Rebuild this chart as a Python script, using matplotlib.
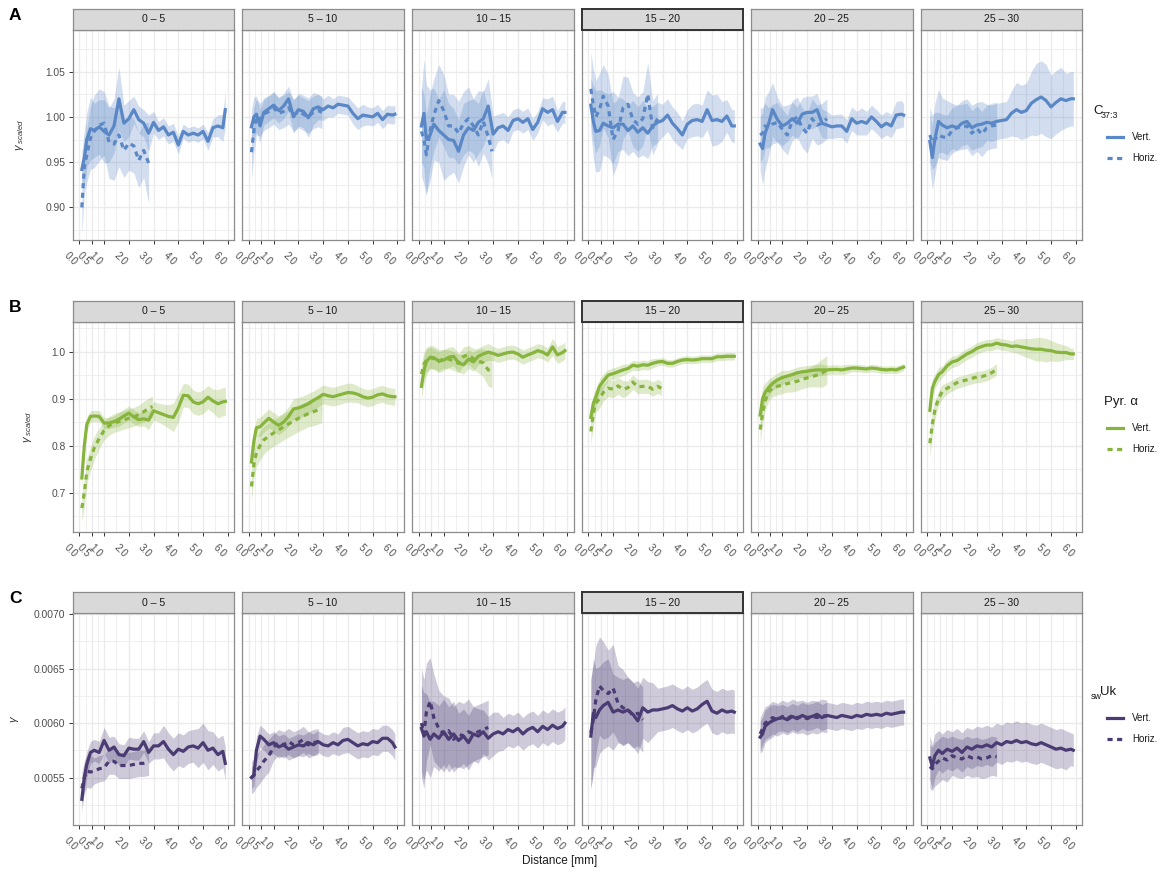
#!/usr/bin/env python3
"""Faceted variogram curves (vertical vs horizontal) for three proxies."""

import numpy as np
import matplotlib
matplotlib.use("Agg")
import matplotlib.pyplot as plt
from matplotlib.lines import Line2D

nan = np.nan

FACETS = ["0 – 5", "5 – 10", "10 – 15", "15 – 20", "20 – 25", "25 – 30"]
HIGHLIGHT = "15 – 20"

# distance grid (mm) shared by all vertical / horizontal curves
VERT_X = [0.1, 0.2, 0.3, 0.45, 0.6, 0.8, 1.0, 1.2, 1.4, 1.6, 1.8, 2.0, 2.2, 2.4, 2.6, 2.8,
          3.0, 3.2, 3.4, 3.6, 3.8, 4.0, 4.2, 4.4, 4.6, 4.8, 5.0, 5.2, 5.4, 5.6, 5.8, 5.9]
HORIZ_X = [0.1, 0.2, 0.3, 0.45, 0.6, 0.8, 1.0, 1.2, 1.4, 1.6, 1.8, 2.0, 2.2, 2.4, 2.6, 2.8, 2.95]

X_TICKS = [0.0, 0.5, 1.0, 2.0, 3.0, 4.0, 5.0, 6.0]
X_TICK_LABELS = ["0.0", "0.5", "1.0", "2.0", "3.0", "4.0", "5.0", "6.0"]
X_MINOR = [0.25, 0.75, 1.5, 2.5, 3.5, 4.5, 5.5]

# ---- A: C37:3 ------------------------------------------------------------
A_VERT = [
    [0.942, 0.955, 0.975, 0.987, 0.985, 0.989, 0.984, 0.980, 0.990, 1.020, 0.993, 0.998, 1.008, 0.997, 0.993, 0.982,
     0.994, 0.985, 0.989, 0.980, 0.983, 0.969, 0.984, 0.980, 0.982, 0.980, 0.984, 0.973, 0.988, 0.990, 0.988, 1.008],
    [0.989, 1.000, 1.003, 0.990, 1.005, 1.009, 1.013, 1.007, 1.012, 1.020, 1.000, 1.008, 1.006, 0.999, 1.009, 1.011,
     1.008, 1.012, 1.010, 1.014, 1.013, 1.012, 1.004, 0.998, 1.002, 1.001, 1.000, 1.004, 0.997, 1.003, 1.002, 1.003],
    [0.990, 1.004, 0.975, 0.980, 0.992, 0.985, 0.980, 0.975, 0.974, 0.962, 0.980, 0.988, 0.985, 0.994, 0.998, 1.012,
     0.981, 0.988, 0.990, 0.985, 0.996, 0.998, 0.994, 0.998, 0.986, 0.994, 1.009, 1.005, 1.008, 0.995, 1.005, 1.005],
    [1.013, 0.995, 0.984, 0.985, 0.993, 0.990, 0.988, 0.992, 0.992, 0.985, 0.990, 0.983, 0.988, 0.982, 0.990, 0.994,
     0.996, 1.002, 0.993, 0.987, 0.980, 0.992, 0.996, 0.997, 0.995, 1.008, 0.996, 0.997, 0.995, 1.001, 0.990, 0.990],
    [0.970, 0.965, 0.982, 0.993, 1.008, 0.997, 0.990, 0.993, 0.998, 0.993, 1.003, 1.005, 1.005, 1.008, 0.993, 0.991,
     0.989, 0.990, 0.990, 0.984, 0.998, 0.993, 0.995, 0.993, 1.000, 0.995, 0.989, 0.993, 0.990, 1.002, 1.003, 1.002],
    [0.973, 0.955, 0.975, 0.995, 0.991, 0.988, 0.990, 0.988, 0.993, 0.995, 0.988, 0.991, 0.992, 0.994, 0.993, 0.995,
     0.996, 0.997, 1.004, 1.008, 1.005, 1.007, 1.015, 1.019, 1.022, 1.018, 1.011, 1.016, 1.020, 1.018, 1.020, 1.020],
]
A_VERT_SD = [
    [0.02, 0.03, 0.03, 0.035, 0.03, 0.03, 0.035, 0.03, 0.03, 0.035, 0.02, 0.02, 0.015, 0.015, 0.015, 0.02,
     0.012, 0.01, 0.01, 0.01, 0.01, 0.01, 0.008, 0.008, 0.008, 0.008, 0.008, 0.01, 0.01, 0.012, 0.015, 0.02],
    [0.02, 0.022, 0.02, 0.018, 0.014, 0.014, 0.014, 0.014, 0.014, 0.014, 0.018, 0.018, 0.018, 0.022, 0.018, 0.014,
     0.012, 0.012, 0.01, 0.01, 0.01, 0.01, 0.012, 0.012, 0.012, 0.01, 0.01, 0.01, 0.01, 0.01, 0.01, 0.01],
    [0.04, 0.06, 0.06, 0.05, 0.04, 0.035, 0.05, 0.04, 0.035, 0.035, 0.035, 0.03, 0.035, 0.035, 0.03, 0.03,
     0.02, 0.015, 0.015, 0.015, 0.012, 0.012, 0.012, 0.012, 0.012, 0.012, 0.012, 0.015, 0.015, 0.012, 0.012, 0.012],
    [0.03, 0.04, 0.045, 0.045, 0.035, 0.035, 0.04, 0.03, 0.028, 0.028, 0.028, 0.028, 0.03, 0.028, 0.022, 0.022,
     0.018, 0.018, 0.018, 0.018, 0.016, 0.016, 0.018, 0.018, 0.018, 0.022, 0.028, 0.028, 0.022, 0.018, 0.018, 0.018],
    [0.03, 0.04, 0.04, 0.035, 0.03, 0.025, 0.022, 0.02, 0.018, 0.018, 0.018, 0.018, 0.018, 0.018, 0.016, 0.015,
     0.013, 0.013, 0.013, 0.013, 0.013, 0.013, 0.015, 0.013, 0.013, 0.013, 0.013, 0.013, 0.013, 0.015, 0.015, 0.013],
    [0.03, 0.035, 0.04, 0.035, 0.03, 0.03, 0.025, 0.025, 0.025, 0.025, 0.025, 0.025, 0.025, 0.02, 0.02, 0.02,
     0.02, 0.02, 0.025, 0.03, 0.03, 0.03, 0.035, 0.04, 0.04, 0.04, 0.035, 0.035, 0.035, 0.03, 0.03, 0.03],
]
A_HORIZ = [
    [0.900, 0.945, 0.958, 0.977, 0.984, 0.991, 0.993, 0.972, 0.970, 0.980, 0.963, 0.971, 0.968, 0.952, 0.963, 0.949, nan],
    [0.961, 0.985, 1.000, 0.997, 1.003, 1.006, 1.010, 1.004, 1.006, 1.010, 1.002, 1.006, 1.003, 1.000, 1.005, 1.007, 1.005],
    [0.984, 0.975, 0.958, 0.985, 1.002, 1.018, 1.007, 0.990, 0.990, 0.982, 0.993, 0.998, 0.990, 0.980, 0.995, 0.978, 0.962],
    [1.031, 1.013, 1.000, 1.008, 1.023, 1.012, 0.975, 0.985, 1.010, 1.014, 0.997, 0.992, 0.998, 1.025, 0.988, 0.998, nan],
    [0.980, 0.982, 0.990, 0.988, 0.992, 0.994, 0.986, 0.980, 0.996, 1.000, 0.988, 0.982, 0.998, 0.991, 0.993, 0.998, nan],
    [0.980, 0.972, 0.975, 0.980, 0.978, 0.977, 0.985, 0.988, 0.989, 0.990, 0.982, 0.987, 0.981, 0.988, 0.990, 0.991, nan],
]
A_HORIZ_SD = [
    [0.03, 0.03, 0.03, 0.035, 0.04, 0.04, 0.035, 0.04, 0.04, 0.035, 0.03, 0.03, 0.03, 0.03, 0.03, 0.045, 0.045],
    [0.03, 0.025, 0.02, 0.018, 0.018, 0.018, 0.018, 0.018, 0.018, 0.018, 0.018, 0.018, 0.018, 0.018, 0.018, 0.018, 0.018],
    [0.05, 0.05, 0.045, 0.04, 0.04, 0.04, 0.04, 0.035, 0.035, 0.035, 0.035, 0.035, 0.03, 0.035, 0.035, 0.03, 0.03],
    [0.04, 0.04, 0.04, 0.04, 0.035, 0.035, 0.04, 0.035, 0.035, 0.03, 0.03, 0.03, 0.03, 0.035, 0.03, 0.028, 0.028],
    [0.03, 0.028, 0.025, 0.022, 0.022, 0.022, 0.022, 0.022, 0.022, 0.022, 0.022, 0.022, 0.022, 0.022, 0.022, 0.022, 0.022],
    [0.03, 0.03, 0.03, 0.025, 0.025, 0.025, 0.025, 0.025, 0.025, 0.025, 0.025, 0.025, 0.025, 0.025, 0.025, 0.025, 0.025],
]

# ---- B: Pyr. alpha -------------------------------------------------------
B_VERT = [
    [0.731, 0.800, 0.845, 0.862, 0.863, 0.862, 0.848, 0.848, 0.851, 0.856, 0.863, 0.869, 0.861, 0.855, 0.857, 0.854,
     0.874, 0.870, 0.866, 0.862, 0.860, 0.880, 0.907, 0.906, 0.893, 0.889, 0.893, 0.903, 0.895, 0.889, 0.893, 0.894],
    [0.765, 0.810, 0.838, 0.840, 0.848, 0.858, 0.850, 0.843, 0.850, 0.862, 0.878, 0.880, 0.884, 0.889, 0.896, 0.902,
     0.909, 0.906, 0.904, 0.907, 0.910, 0.913, 0.912, 0.909, 0.904, 0.901, 0.903, 0.908, 0.910, 0.906, 0.904, 0.904],
    [0.926, 0.960, 0.979, 0.988, 0.987, 0.980, 0.982, 0.988, 0.990, 0.976, 0.972, 0.984, 0.978, 0.990, 0.995, 0.999,
     0.996, 0.992, 0.995, 0.998, 0.999, 0.995, 0.988, 0.993, 0.997, 1.002, 0.999, 0.993, 1.010, 0.993, 0.998, 1.002],
    [0.860, 0.890, 0.903, 0.926, 0.937, 0.950, 0.953, 0.957, 0.961, 0.964, 0.971, 0.969, 0.972, 0.971, 0.975, 0.978,
     0.979, 0.975, 0.975, 0.979, 0.982, 0.983, 0.982, 0.983, 0.985, 0.985, 0.985, 0.989, 0.989, 0.990, 0.990, 0.990],
    [0.865, 0.900, 0.913, 0.924, 0.932, 0.940, 0.945, 0.948, 0.951, 0.955, 0.957, 0.958, 0.960, 0.961, 0.961, 0.961,
     0.962, 0.962, 0.961, 0.963, 0.965, 0.965, 0.964, 0.963, 0.965, 0.964, 0.962, 0.961, 0.962, 0.961, 0.965, 0.967],
    [0.875, 0.922, 0.936, 0.951, 0.957, 0.970, 0.978, 0.981, 0.988, 0.995, 1.000, 1.007, 1.011, 1.014, 1.014, 1.018,
     1.015, 1.014, 1.011, 1.012, 1.010, 1.008, 1.006, 1.005, 1.005, 1.003, 1.002, 0.999, 0.998, 0.998, 0.995, 0.995],
]
B_VERT_SD = [
    [0.02, 0.02, 0.015, 0.012, 0.012, 0.012, 0.012, 0.012, 0.012, 0.015, 0.015, 0.015, 0.015, 0.015, 0.015, 0.02,
     0.02, 0.02, 0.022, 0.025, 0.03, 0.03, 0.025, 0.025, 0.025, 0.025, 0.025, 0.025, 0.025, 0.03, 0.03, 0.03],
    [0.02, 0.02, 0.02, 0.02, 0.02, 0.02, 0.02, 0.02, 0.02, 0.02, 0.022, 0.022, 0.022, 0.022, 0.02, 0.02,
     0.02, 0.02, 0.02, 0.02, 0.02, 0.02, 0.02, 0.018, 0.018, 0.018, 0.018, 0.018, 0.018, 0.018, 0.018, 0.018],
    [0.025, 0.03, 0.03, 0.025, 0.025, 0.025, 0.022, 0.022, 0.02, 0.02, 0.02, 0.02, 0.02, 0.018, 0.018, 0.018,
     0.015, 0.015, 0.015, 0.015, 0.015, 0.015, 0.015, 0.015, 0.015, 0.015, 0.015, 0.015, 0.018, 0.018, 0.018, 0.018],
    [0.02, 0.02, 0.018, 0.015, 0.015, 0.012, 0.012, 0.012, 0.012, 0.01, 0.01, 0.01, 0.01, 0.01, 0.01, 0.008,
     0.008, 0.008, 0.008, 0.008, 0.008, 0.008, 0.008, 0.008, 0.008, 0.008, 0.008, 0.008, 0.008, 0.008, 0.008, 0.008],
    [0.03, 0.025, 0.02, 0.018, 0.015, 0.015, 0.015, 0.012, 0.012, 0.012, 0.012, 0.012, 0.012, 0.012, 0.012, 0.01,
     0.01, 0.01, 0.01, 0.01, 0.008, 0.008, 0.008, 0.008, 0.008, 0.008, 0.008, 0.008, 0.008, 0.008, 0.008, 0.008],
    [0.02, 0.02, 0.015, 0.015, 0.012, 0.012, 0.012, 0.012, 0.012, 0.012, 0.012, 0.012, 0.012, 0.012, 0.012, 0.012,
     0.012, 0.012, 0.012, 0.015, 0.018, 0.02, 0.022, 0.025, 0.025, 0.025, 0.022, 0.02, 0.018, 0.015, 0.012, 0.012],
]
B_HORIZ = [
    [0.667, 0.700, 0.745, 0.772, 0.795, 0.815, 0.832, 0.842, 0.848, 0.851, 0.855, 0.858, 0.861, 0.866, 0.872, 0.879, 0.883],
    [0.713, 0.760, 0.785, 0.800, 0.812, 0.820, 0.827, 0.833, 0.840, 0.846, 0.852, 0.858, 0.863, 0.868, 0.872, 0.876, 0.878],
    [0.952, 0.973, 0.982, 0.987, 0.985, 0.979, 0.985, 0.984, 0.980, 0.975, 0.990, 0.993, 0.985, 0.980, 0.976, 0.961, 0.958],
    [0.830, 0.869, 0.890, 0.900, 0.913, 0.922, 0.920, 0.927, 0.920, 0.923, 0.935, 0.925, 0.926, 0.926, 0.920, 0.926, 0.922],
    [0.834, 0.869, 0.895, 0.915, 0.922, 0.926, 0.929, 0.932, 0.934, 0.937, 0.941, 0.944, 0.947, 0.950, 0.954, 0.961, nan],
    [0.805, 0.845, 0.875, 0.900, 0.915, 0.922, 0.928, 0.934, 0.937, 0.940, 0.943, 0.946, 0.947, 0.950, 0.955, 0.962, nan],
]
B_HORIZ_SD = [
    [0.03, 0.03, 0.028, 0.025, 0.025, 0.022, 0.02, 0.02, 0.02, 0.02, 0.02, 0.02, 0.02, 0.02, 0.022, 0.022, 0.022],
    [0.03, 0.03, 0.03, 0.03, 0.03, 0.028, 0.028, 0.028, 0.028, 0.028, 0.028, 0.028, 0.028, 0.028, 0.03, 0.03, 0.03],
    [0.025, 0.025, 0.025, 0.022, 0.022, 0.02, 0.02, 0.02, 0.02, 0.02, 0.02, 0.02, 0.022, 0.025, 0.03, 0.035, 0.035],
    [0.03, 0.025, 0.02, 0.02, 0.018, 0.018, 0.018, 0.018, 0.018, 0.015, 0.015, 0.015, 0.015, 0.015, 0.015, 0.015, 0.015],
    [0.03, 0.025, 0.02, 0.02, 0.018, 0.018, 0.018, 0.018, 0.02, 0.02, 0.02, 0.02, 0.022, 0.025, 0.03, 0.03, 0.03],
    [0.03, 0.025, 0.02, 0.015, 0.015, 0.012, 0.012, 0.012, 0.012, 0.012, 0.012, 0.012, 0.012, 0.012, 0.012, 0.012, 0.012],
]

# ---- C: swUk -------------------------------------------------------------
C_VERT = [
    [0.00530, 0.00550, 0.00562, 0.00573, 0.00575, 0.00573, 0.00584, 0.00575, 0.00578, 0.00571, 0.00570, 0.00577,
     0.00576, 0.00576, 0.00583, 0.00573, 0.00579, 0.00579, 0.00583, 0.00576, 0.00571, 0.00576, 0.00574, 0.00578,
     0.00579, 0.00577, 0.00582, 0.00575, 0.00577, 0.00571, 0.00574, 0.00563],
    [0.00550, 0.00552, 0.00575, 0.00588, 0.00585, 0.00580, 0.00582, 0.00578, 0.00580, 0.00576, 0.00578, 0.00580,
     0.00579, 0.00582, 0.00580, 0.00583, 0.00580, 0.00579, 0.00582, 0.00580, 0.00584, 0.00585, 0.00582, 0.00579,
     0.00581, 0.00580, 0.00583, 0.00582, 0.00586, 0.00586, 0.00582, 0.00578],
    [0.00595, 0.00588, 0.00592, 0.00585, 0.00590, 0.00586, 0.00592, 0.00585, 0.00590, 0.00584, 0.00588, 0.00582,
     0.00590, 0.00588, 0.00592, 0.00586, 0.00590, 0.00592, 0.00590, 0.00594, 0.00592, 0.00595, 0.00590, 0.00594,
     0.00596, 0.00592, 0.00597, 0.00594, 0.00598, 0.00595, 0.00597, 0.00600],
    [0.00588, 0.00609, 0.00605, 0.00612, 0.00616, 0.00619, 0.00610, 0.00612, 0.00610, 0.00612, 0.00608, 0.00602,
     0.00614, 0.00610, 0.00612, 0.00612, 0.00613, 0.00614, 0.00616, 0.00613, 0.00611, 0.00614, 0.00611, 0.00613,
     0.00617, 0.00620, 0.00611, 0.00609, 0.00612, 0.00610, 0.00611, 0.00610],
    [0.00587, 0.00590, 0.00597, 0.00600, 0.00602, 0.00604, 0.00605, 0.00603, 0.00606, 0.00604, 0.00607, 0.00605,
     0.00606, 0.00608, 0.00605, 0.00607, 0.00606, 0.00605, 0.00607, 0.00606, 0.00605, 0.00607, 0.00606, 0.00608,
     0.00607, 0.00608, 0.00607, 0.00609, 0.00608, 0.00609, 0.00610, 0.00610],
    [0.00568, 0.00560, 0.00570, 0.00575, 0.00572, 0.00576, 0.00574, 0.00577, 0.00573, 0.00578, 0.00576, 0.00579,
     0.00578, 0.00580, 0.00578, 0.00582, 0.00580, 0.00583, 0.00582, 0.00584, 0.00582, 0.00583, 0.00581, 0.00580,
     0.00582, 0.00580, 0.00578, 0.00576, 0.00577, 0.00575, 0.00576, 0.00575],
]
C_VERT_SD = [
    [0.00012, 0.00012, 0.00012, 0.0001, 0.0001, 0.0001, 0.00012, 0.00012, 0.0001, 0.0001, 0.0001, 0.0001,
     0.0001, 0.0001, 0.0001, 0.0001, 0.00012, 0.00012, 0.00015, 0.00015, 0.00015, 0.00015, 0.00015, 0.00015,
     0.00015, 0.00018, 0.00018, 0.00018, 0.00015, 0.00015, 0.00015, 0.00015],
    [0.0001, 0.0001, 0.00012, 0.0001, 0.0001, 0.0001, 0.0001, 0.0001, 0.0001, 0.0001, 0.0001, 0.0001,
     0.0001, 0.0001, 0.0001, 0.0001, 0.0001, 0.0001, 0.0001, 0.0001, 0.00012, 0.00012, 0.00012, 0.00012,
     0.00012, 0.00012, 0.00012, 0.00012, 0.00012, 0.00012, 0.00012, 0.00012],
    [0.0004, 0.0004, 0.00035, 0.00035, 0.0003, 0.0003, 0.0003, 0.0003, 0.0003, 0.00025, 0.00025, 0.00025,
     0.00025, 0.00025, 0.0002, 0.0002, 0.0002, 0.00018, 0.00015, 0.00015, 0.00015, 0.00015, 0.00015, 0.00015,
     0.00015, 0.00015, 0.00015, 0.00015, 0.00015, 0.00015, 0.00015, 0.00015],
    [0.0005, 0.0005, 0.00045, 0.0004, 0.0004, 0.0004, 0.00035, 0.0003, 0.0003, 0.0003, 0.0003, 0.0003,
     0.00028, 0.00028, 0.00025, 0.0002, 0.0002, 0.0002, 0.0002, 0.0002, 0.0002, 0.0002, 0.0002, 0.0002,
     0.0002, 0.0002, 0.0002, 0.0002, 0.0002, 0.0002, 0.0002, 0.0002],
    [0.00015, 0.00015, 0.00015, 0.00015, 0.00015, 0.00012, 0.00012, 0.00012, 0.00012, 0.00012, 0.00012, 0.00012,
     0.00012, 0.00012, 0.00012, 0.00012, 0.00012, 0.00012, 0.00012, 0.00012, 0.00012, 0.00012, 0.00012, 0.00012,
     0.00012, 0.00012, 0.00012, 0.00012, 0.00012, 0.00012, 0.00012, 0.00012],
    [0.0002, 0.0002, 0.0002, 0.00018, 0.00018, 0.00018, 0.00018, 0.00018, 0.00018, 0.00018, 0.00018, 0.00018,
     0.00018, 0.00018, 0.00018, 0.00018, 0.00018, 0.00018, 0.00018, 0.00018, 0.00018, 0.00018, 0.00018, 0.00018,
     0.00018, 0.00018, 0.00018, 0.00018, 0.00018, 0.00018, 0.00015, 0.00015],
]
C_HORIZ = [
    [0.00540, 0.00550, 0.00556, 0.00555, 0.00556, 0.00558, 0.00559, 0.00565, 0.00565, 0.00561, 0.00561, 0.00561,
     0.00562, 0.00563, 0.00563, 0.00564, nan],
    [0.00550, 0.00552, 0.00556, 0.00560, 0.00565, 0.00570, 0.00578, 0.00582, 0.00580, 0.00583, 0.00580, 0.00582,
     0.00585, 0.00580, 0.00582, 0.00583, nan],
    [0.00600, 0.00590, 0.00610, 0.00620, 0.00605, 0.00595, 0.00590, 0.00593, 0.00585, 0.00590, 0.00588, 0.00592,
     0.00590, 0.00592, 0.00594, 0.00596, nan],
    [0.00591, 0.00603, 0.00621, 0.00634, 0.00630, 0.00627, 0.00632, 0.00618, 0.00614, 0.00612, 0.00607, 0.00609,
     0.00603, nan, nan, nan, nan],
    [0.00590, 0.00595, 0.00600, 0.00602, 0.00605, 0.00603, 0.00606, 0.00604, 0.00607, 0.00605, 0.00606, 0.00604,
     0.00606, 0.00605, 0.00607, 0.00606, nan],
    [0.00560, 0.00558, 0.00562, 0.00565, 0.00568, 0.00566, 0.00570, 0.00568, 0.00567, 0.00570, 0.00568, 0.00569,
     0.00567, 0.00568, 0.00570, 0.00569, nan],
]
C_HORIZ_SD = [
    [0.00015, 0.00015, 0.00015, 0.00015, 0.00012, 0.00012, 0.00012, 0.00012, 0.00012, 0.00012, 0.00012, 0.00012,
     0.00012, 0.00012, 0.00012, 0.00012, 0.00012],
    [0.00015, 0.00015, 0.00015, 0.00015, 0.00015, 0.00015, 0.00012, 0.00012, 0.00012, 0.00012, 0.00012, 0.00012,
     0.00012, 0.00012, 0.00012, 0.00012, 0.00012],
    [0.0005, 0.0005, 0.00045, 0.0004, 0.0004, 0.00035, 0.00035, 0.0003, 0.0003, 0.0003, 0.0003, 0.0003,
     0.00025, 0.00025, 0.00025, 0.00025, 0.00025],
    [0.0005, 0.0005, 0.0005, 0.00045, 0.00045, 0.0004, 0.0004, 0.00035, 0.00035, 0.0003, 0.0003, 0.0003,
     0.0003, 0.0003, 0.0003, 0.0003, 0.0003],
    [0.00015, 0.00015, 0.00015, 0.00015, 0.00015, 0.00015, 0.00015, 0.00015, 0.00015, 0.00015, 0.00015, 0.00015,
     0.00015, 0.00015, 0.00015, 0.00015, 0.00015],
    [0.0002, 0.0002, 0.0002, 0.0002, 0.0002, 0.0002, 0.00018, 0.00018, 0.00018, 0.00018, 0.00018, 0.00018,
     0.00018, 0.00018, 0.00018, 0.00018, 0.00018],
]

# ---- page layout (pixels of the 1164 x 872 page) --------------------------
W, H = 1164, 872
COL_LEFT = [72.7, 242.3, 412.3, 581.7, 751.0, 920.7]
PANEL_W = 161.5
STRIP_H = 21

ROWS = [
    dict(tag="A", vert=A_VERT, vsd=A_VERT_SD, horiz=A_HORIZ, hsd=A_HORIZ_SD, color="#5A87C6",
         top=30, bottom=240, ylim=(0.864, 1.096),
         yticks=[0.90, 0.95, 1.00, 1.05], yticklabels=["0.90", "0.95", "1.00", "1.05"],
         yminor=[0.875, 0.925, 0.975, 1.025, 1.075],
         ylabel=r"$\gamma_{\ scaled}$", ylabel_x=20, legend_y=111),
    dict(tag="B", vert=B_VERT, vsd=B_VERT_SD, horiz=B_HORIZ, hsd=B_HORIZ_SD, color="#86B43C",
         top=322, bottom=532, ylim=(0.616, 1.063),
         yticks=[0.7, 0.8, 0.9, 1.0], yticklabels=["0.7", "0.8", "0.9", "1.0"],
         yminor=[0.65, 0.75, 0.85, 0.95, 1.05],
         ylabel=r"$\gamma_{\ scaled}$", ylabel_x=28, legend_y=402),
    dict(tag="C", vert=C_VERT, vsd=C_VERT_SD, horiz=C_HORIZ, hsd=C_HORIZ_SD, color="#4A3B73",
         top=613, bottom=825, ylim=(0.005064, 0.00701),
         yticks=[0.0055, 0.0060, 0.0065, 0.0070], yticklabels=["0.0055", "0.0060", "0.0065", "0.0070"],
         yminor=[0.00525, 0.00575, 0.00625, 0.00675],
         ylabel=r"$\gamma$", ylabel_x=15, legend_y=692),
]

TEXT_GREY = "#4D4D4D"
BORDER = "#8C8C8C"
GRID = "#EBEBEB"
LW = 2.3
DASH = (0, (1.6, 1.4))


def _rect(left, top, w, h):
    return [left / W, 1 - (top + h) / H, w / W, h / H]


def _fx(px):
    return px / W


def _fy(py):
    return 1 - py / H


plt.rcParams["font.family"] = ["Liberation Sans", "DejaVu Sans"]
plt.rcParams["mathtext.fontset"] = "custom"
plt.rcParams["mathtext.rm"] = "Liberation Sans"
plt.rcParams["mathtext.it"] = "Liberation Sans:italic"
plt.rcParams["mathtext.bf"] = "Liberation Sans:bold"

fig = plt.figure(figsize=(W / 100, H / 100), dpi=100)

vx = np.array(VERT_X)
hx = np.array(HORIZ_X)

for row in ROWS:
    ph = row["bottom"] - row["top"]
    for j, facet in enumerate(FACETS):
        left = COL_LEFT[j]
        ax = fig.add_axes(_rect(left, row["top"], PANEL_W, ph))
        ax.set_facecolor("white")

        v = np.array(row["vert"][j])
        vs = np.array(row["vsd"][j])
        h = np.array(row["horiz"][j])
        hs = np.array(row["hsd"][j])
        c = row["color"]

        ax.fill_between(hx, h - hs, h + hs, color=c, alpha=0.27, lw=0, zorder=2)
        ax.fill_between(vx, v - vs, v + vs, color=c, alpha=0.27, lw=0, zorder=2)
        ax.plot(hx, h, color=c, lw=LW, linestyle=DASH, zorder=3, solid_capstyle="butt")
        ax.plot(vx, v, color=c, lw=LW, zorder=4, solid_joinstyle="round")

        ax.set_xlim(-0.27, 6.26)
        ax.set_ylim(*row["ylim"])
        ax.set_xticks(X_TICKS)
        ax.set_xticks(X_MINOR, minor=True)
        ax.set_yticks(row["yticks"])
        ax.set_yticks(row["yminor"], minor=True)
        ax.grid(which="major", color=GRID, lw=1.0, zorder=0)
        ax.grid(which="minor", color=GRID, lw=0.55, zorder=0)
        ax.set_axisbelow(True)
        ax.set_xticklabels(X_TICK_LABELS, rotation=-45, ha="right", fontsize=7.2, color=TEXT_GREY)
        ax.tick_params(which="minor", length=0)
        ax.tick_params(axis="x", which="major", length=3.2, width=0.7, color="#333333", pad=4)
        if j == 0:
            ax.set_yticklabels(row["yticklabels"], fontsize=7.4, color=TEXT_GREY)
            ax.tick_params(axis="y", which="major", length=3.2, width=0.7, color="#333333", pad=2)
        else:
            ax.tick_params(axis="y", which="both", length=0, labelleft=False)
        for sp in ax.spines.values():
            sp.set_color(BORDER)
            sp.set_linewidth(0.9)

        # facet strip
        sax = fig.add_axes(_rect(left, row["top"] - STRIP_H, PANEL_W, STRIP_H))
        sax.set_facecolor("#D9D9D9")
        sax.set_xticks([])
        sax.set_yticks([])
        edge, ew = ("#333333", 1.4) if facet == HIGHLIGHT else (BORDER, 0.9)
        for sp in sax.spines.values():
            sp.set_color(edge)
            sp.set_linewidth(ew)
        sax.text(0.5, 0.5, facet, ha="center", va="center", fontsize=7.6, color="#1A1A1A",
                 transform=sax.transAxes)

    # panel tag and y label
    fig.text(_fx(15), _fy(row["top"] - STRIP_H + 6), row["tag"], fontsize=12.5, fontweight="bold",
             ha="center", va="center")
    fig.text(_fx(row["ylabel_x"]), _fy((row["top"] + row["bottom"]) / 2), row["ylabel"],
             rotation=90, ha="center", va="center", fontsize=8, color="#333333")

    # legend
    ly = row["legend_y"]
    c = row["color"]
    fig.add_artist(Line2D([_fx(1107), _fx(1123)], [_fy(ly + 26), _fy(ly + 26)], color=c, lw=LW,
                          transform=fig.transFigure))
    fig.add_artist(Line2D([_fx(1107), _fx(1123)], [_fy(ly + 47), _fy(ly + 47)], color=c, lw=LW,
                          linestyle=DASH, transform=fig.transFigure))
    fig.text(_fx(1132), _fy(ly + 26), "Vert.", fontsize=7, va="center", ha="left", color="#1A1A1A")
    fig.text(_fx(1132), _fy(ly + 47), "Horiz.", fontsize=7, va="center", ha="left", color="#1A1A1A")

# legend titles
fig.text(_fx(1093), _fy(111), "C", fontsize=9.5, va="center", ha="left", color="#1A1A1A")
fig.text(_fx(1101), _fy(115), "37:3", fontsize=6.5, va="center", ha="left", color="#1A1A1A")
fig.text(_fx(1104), _fy(402), "Pyr. α", fontsize=9.5, va="center", ha="left", color="#1A1A1A")
fig.text(_fx(1091), _fy(696), "sw", fontsize=6.5, va="center", ha="left", color="#1A1A1A")
fig.text(_fx(1100), _fy(692), "Uk", fontsize=9.5, va="center", ha="left", color="#1A1A1A")

fig.text(_fx(560), _fy(861), "Distance [mm]", fontsize=8.5, ha="center", va="center", color="#1A1A1A")

fig.savefig("out.png", dpi=100)
